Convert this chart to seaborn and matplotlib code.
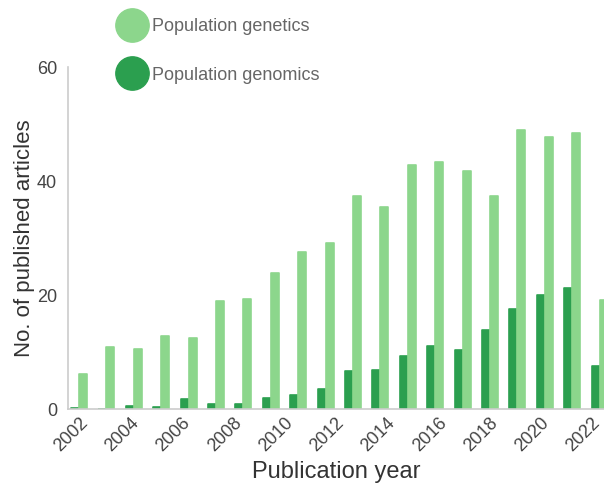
import numpy as np
import pandas as pd
import matplotlib.pyplot as plt
import seaborn as sns
from matplotlib.lines import Line2D

# bar groups in drawing order (20 groups under the 2002-2022 axis)
group_ids = list(range(20))
genetics = [6.1, 10.9, 10.6, 12.8, 12.4, 19.0, 19.3, 23.9, 27.5, 29.1,
            37.4, 35.4, 42.8, 43.3, 41.8, 37.4, 49.0, 47.8, 48.4, 19.1]
genomics = [0.2, 0.0, 0.5, 0.3, 1.7, 0.9, 0.9, 1.9, 2.4, 3.6,
            6.7, 6.9, 9.3, 11.0, 10.4, 13.9, 17.6, 20.1, 21.2, 7.6]
tick_years = [2002, 2004, 2006, 2008, 2010, 2012, 2014, 2016, 2018, 2020, 2022]
y_ticks = [0, 20, 40, 60]

light = "#8cd68c"
dark = "#2b9f4f"

df = pd.DataFrame({
    "group": group_ids * 2,
    "series": ["Population genomics"] * 20 + ["Population genetics"] * 20,
    "count": genomics + genetics,
})

sns.set_style("white")
plt.rcParams["font.family"] = ["Liberation Sans", "DejaVu Sans"]

fig = plt.figure(figsize=(6.04, 4.87), dpi=100)
ax = fig.add_axes([0.1126, 0.160, 0.8874, 0.702])

sns.barplot(data=df, x="group", y="count", hue="series",
            hue_order=["Population genomics", "Population genetics"],
            palette=[dark, light], width=0.58, ax=ax, legend=False,
            linewidth=1.2, saturation=1)
for bar in ax.patches:
    bar.set_edgecolor(bar.get_facecolor())
    bar.set_joinstyle("round")

ax.set_xlim(-0.4, 19.16)
ax.set_ylim(0, 59)
ax.set_yticks(y_ticks)
ax.set_yticklabels([str(v) for v in y_ticks])
ax.set_xticks(np.linspace(0.45, 19.15, len(tick_years)))
ax.set_xticklabels([str(y) for y in tick_years], rotation=45, ha="right")
ax.tick_params(axis="x", length=0, pad=4, labelsize=13, labelcolor="#444444")
ax.tick_params(axis="y", length=0, pad=8, labelsize=13, labelcolor="#444444")

sns.despine(ax=ax)
for s in ["left", "bottom"]:
    ax.spines[s].set_color("#cccccc")
    ax.spines[s].set_linewidth(1.2)

ax.set_xlabel("Publication year", fontsize=17, color="#333333", labelpad=4)
ax.set_ylabel("No. of published articles", fontsize=16, color="#333333", labelpad=1)

handles = [
    Line2D([], [], marker="o", linestyle="", markersize=24,
           markerfacecolor=light, markeredgecolor=light, label="Population genetics"),
    Line2D([], [], marker="o", linestyle="", markersize=24,
           markerfacecolor=dark, markeredgecolor=dark, label="Population genomics"),
]
leg = fig.legend(handles=handles, loc="upper left", bbox_to_anchor=(0.177, 0.985),
                 frameon=False, fontsize=13, labelspacing=1.75, handletextpad=0.3,
                 handlelength=1.6, borderaxespad=0.2)
for t in leg.get_texts():
    t.set_color("#666666")

fig.savefig("out.png", dpi=100)
